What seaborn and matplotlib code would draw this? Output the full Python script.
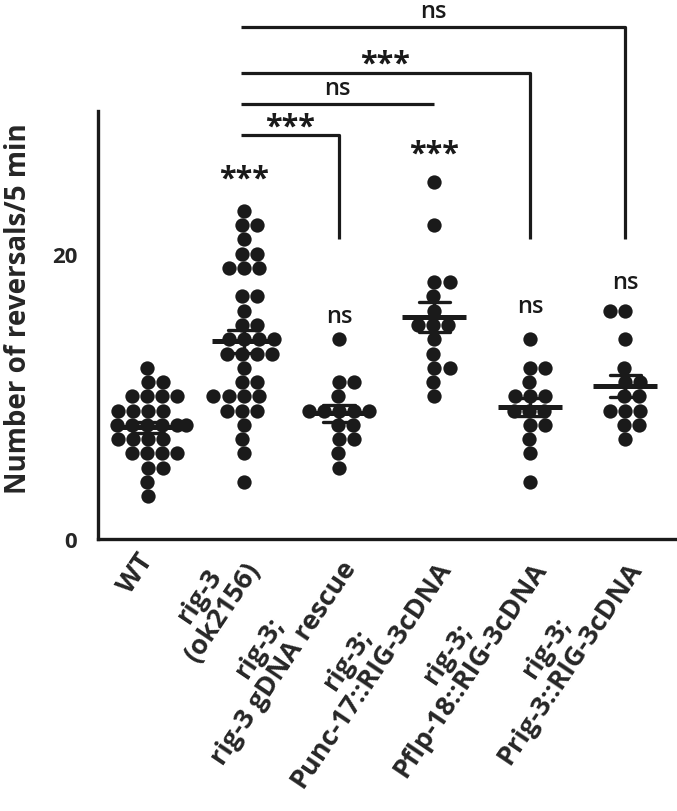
import seaborn as sns
import matplotlib.pyplot as plt
import pandas as pd

groups = ["WT", "rig-3\n(ok2156)", "rig-3;\nrig-3 gDNA rescue", "rig-3;\nPunc-17::RIG-3cDNA",
          "rig-3;\nPflp-18::RIG-3cDNA", "rig-3;\nPrig-3::RIG-3cDNA"]

wt = [12, 11, 11, 10, 10, 10, 10, 9, 9, 9, 9, 8, 8, 8, 8, 8, 8, 7, 7, 7, 7, 6, 6, 6, 6, 5, 5, 4, 3]
rig3 = [23, 22, 22, 21, 20, 20, 19, 19, 19, 17, 17, 16, 15, 15, 14, 14, 14, 14,
        13, 13, 13, 13, 12, 11, 11, 10, 10, 10, 10, 9, 9, 9, 8, 7, 6, 4]
gdna = [14, 11, 11, 10, 9, 9, 9, 9, 9, 8, 8, 7, 7, 6, 5]
punc17 = [25, 22, 18, 18, 17, 16, 15, 15, 15, 14, 13, 12, 12, 11, 10]
pflp18 = [14, 12, 12, 11, 10, 10, 10, 9, 9, 9, 8, 8, 7, 6, 4]
prig3 = [16, 16, 14, 12, 11, 11, 10, 10, 9, 9, 9, 8, 8, 7]

# significance vs WT, placed above each group
group_marks = ["", "***", "ns", "***", "ns", "ns"]
group_mark_y = [0, 25.3, 15.6, 27.0, 16.35, 18.0]

# comparisons vs rig-3: (end group index, label, bracket height)
bracket_end = [2, 3, 4, 5]
bracket_text = ["***", "ns", "***", "ns"]
bracket_y = [28.3, 30.5, 32.7, 35.9]
bracket_drop = [True, False, True, True]

values = [wt, rig3, gdna, punc17, pflp18, prig3]
df = pd.DataFrame({
    "group": [g for g, v in zip(groups, values) for _ in v],
    "value": [x for v in values for x in v],
})

sns.set_style("white")
plt.rcParams["font.family"] = ["Open Sans", "DejaVu Sans"]
ink = "#1a1a1a"

fig = plt.figure(figsize=(6.77, 8.12), dpi=100)
ax = fig.add_axes([0.1448, 0.335, 0.8552, 0.527])

sns.swarmplot(data=df, x="group", y="value", order=groups, color=ink, size=10.3,
              linewidth=0, ax=ax, zorder=2, warn_thresh=1)
sns.pointplot(data=df, x="group", y="value", order=groups, errorbar="se", capsize=0.33,
              color=ink, markers="_", markersize=46, markeredgewidth=3.6,
              linestyle="none", err_kws={"linewidth": 2.4}, ax=ax, zorder=3)

ax.set_xlim(-0.524, 5.54)
ax.set_ylim(0, 30)
ax.set_yticks([0, 10, 20, 30])
ax.set_yticklabels(["0", "", "20", ""], fontsize=16, fontweight="bold")
ax.set_xticks(range(len(groups)))
ax.set_xticklabels(groups, rotation=56, ha="right", va="center", rotation_mode="anchor",
                   multialignment="center", fontsize=19.5, fontweight="bold",
                   linespacing=1.1)
ax.tick_params(axis="y", length=7, width=2.2, color=ink, pad=8)
ax.tick_params(axis="x", length=0, pad=12)
ax.set_xlabel("")
ax.set_ylabel("Number of reversals/5 min", fontsize=20, fontweight="bold")
ax.yaxis.set_label_coords(-0.112, 0.54)

sns.despine(ax=ax)
for s in ["left", "bottom"]:
    ax.spines[s].set_linewidth(2.4)
    ax.spines[s].set_color(ink)

for i, t in enumerate(group_marks):
    if t:
        ax.text(i, group_mark_y[i], t, ha="center", va="center",
                fontsize=22 if t == "***" else 17, fontweight="bold" if t == "***" else "semibold",
                color=ink)

for end, t, y, drop in zip(bracket_end, bracket_text, bracket_y, bracket_drop):
    xs = [0.97, end]
    ys = [y, y]
    if drop:
        xs.append(end)
        ys.append(21.05)
    ax.plot(xs, ys, color=ink, lw=2.3, clip_on=False, solid_capstyle="butt")
    ax.text((0.97 + end) / 2, y + (0.6 if t == "***" else 1.1), t, ha="center", va="center",
            fontsize=22 if t == "***" else 17, fontweight="bold" if t == "***" else "semibold",
            color=ink, clip_on=False)

fig.savefig("out.png", dpi=100)
